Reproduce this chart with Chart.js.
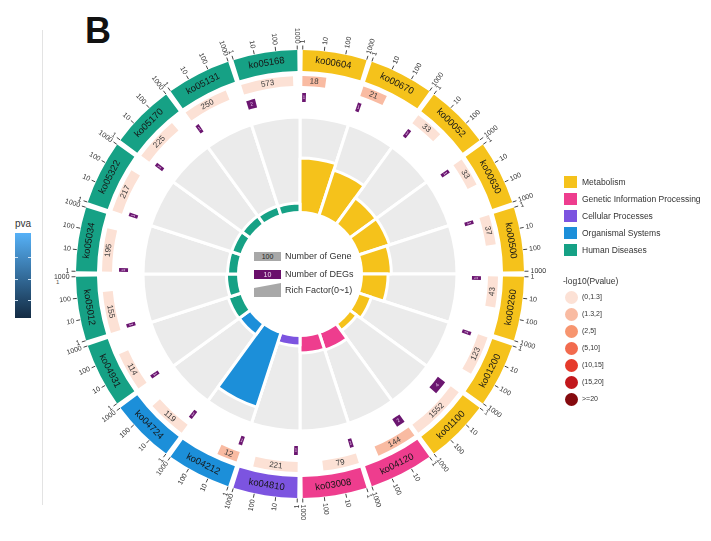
<!DOCTYPE html>
<html>
<head>
<meta charset="utf-8">
<script src="https://cdn.jsdelivr.net/npm/chart.js@4.4.1/dist/chart.umd.min.js"></script>
<style>
  html, body { margin: 0; padding: 0; background: #fff; }
  body { width: 711px; height: 541px; position: relative; overflow: hidden;
         font-family: "Liberation Sans", Arial, sans-serif; color: #333; }
  canvas { position: absolute; left: 0; top: 0; }
  .abs { position: absolute; white-space: nowrap; }
  .sq { position: absolute; width: 13px; height: 12px; }
  .dot { position: absolute; width: 13px; height: 13px; border-radius: 50%; }
</style>
</head>
<body>
<div class="abs" style="left:85px;top:10px;font-size:36px;font-weight:bold;color:#111;">B</div>
<div class="abs" style="left:42px;top:30px;width:1px;height:475px;background:#e3e3e3;"></div>

<!-- colour bar of the neighbouring panel -->
<div class="abs" style="left:15px;top:218px;font-size:10px;color:#333;">pva</div>
<div class="abs" style="left:15px;top:233px;width:16px;height:85px;background:linear-gradient(#56B1F7,#132B43);"></div>
<div class="abs" style="left:15px;top:257px;width:3px;height:1px;background:#cfe3f5;"></div>
<div class="abs" style="left:28px;top:257px;width:3px;height:1px;background:#cfe3f5;"></div>
<div class="abs" style="left:15px;top:279px;width:3px;height:1px;background:#cfe3f5;"></div>
<div class="abs" style="left:28px;top:279px;width:3px;height:1px;background:#cfe3f5;"></div>
<div class="abs" style="left:15px;top:300px;width:3px;height:1px;background:#cfe3f5;"></div>
<div class="abs" style="left:28px;top:300px;width:3px;height:1px;background:#cfe3f5;"></div>
<div class="abs" style="left:56px;top:279px;font-size:6px;color:#555;">1</div>

<canvas id="inner" width="711" height="541" style="width:711px;height:541px;"></canvas>
<canvas id="outer" width="711" height="541" style="width:711px;height:541px;"></canvas>

<!-- key in the centre of the circle -->
<div class="abs" style="left:254px;top:252px;width:27px;height:9px;background:#A8A8A8;font-size:7px;line-height:9px;text-align:center;color:#222;">100</div>
<div class="abs" style="left:285px;top:251px;font-size:9px;line-height:11px;color:#333;">Number of Gene</div>
<div class="abs" style="left:254px;top:270px;width:27px;height:9px;background:#6A0F6B;font-size:7px;line-height:9px;text-align:center;color:#f3dff3;">10</div>
<div class="abs" style="left:285px;top:269px;font-size:9px;line-height:11px;color:#333;">Number of DEGs</div>
<div class="abs" style="left:254px;top:283px;width:27px;height:14px;background:#A8A8A8;clip-path:polygon(0 35%,100% 0,100% 100%,0 100%);"></div>
<div class="abs" style="left:285px;top:285px;font-size:9px;line-height:11px;color:#333;">Rich Factor(0~1)</div>

<div id="legend"></div>

<script>
// KEGG pathways, clockwise from 12 o'clock
const pathways = ['ko00604','ko00670','ko00052','ko00630','ko00500','ko00260','ko01200','ko01100',
                  'ko04120','ko03008','ko04810','ko04212','ko04724',
                  'ko04931','ko05012','ko05034','ko05322','ko05170','ko05131','ko05168'];
const pathwayClass = ['Metabolism','Metabolism','Metabolism','Metabolism','Metabolism','Metabolism','Metabolism','Metabolism',
                      'Genetic Information Processing','Genetic Information Processing',
                      'Cellular Processes','Organismal Systems','Organismal Systems',
                      'Human Diseases','Human Diseases','Human Diseases','Human Diseases','Human Diseases','Human Diseases','Human Diseases'];
// background genes per pathway
const geneCounts = [18,21,33,33,37,43,123,1552,144,79,221,12,119,114,155,195,217,225,250,573];
// differentially expressed genes per pathway
const degCounts  = [1,1,1,1,1,1,1,4,2,1,1,1,1,1,1,1,1,1,1,2];
// -log10(P value) per pathway
const negLog10P  = [1.5,1.4,1.1,1.0,0.9,0.8,0.3,0.4,1.35,0.6,0.2,1.45,0.3,0.3,0.2,0.2,0.2,0.2,0.2,0.1];

const classNames  = ['Metabolism','Genetic Information Processing','Cellular Processes','Organismal Systems','Human Diseases'];
const classColors = ['#F5C21B','#EE3D8E','#7C54E0','#1C8FD9','#16A185'];
const pBinLabels  = ['(0,1.3]','(1.3,2]','(2,5]','(5,10]','(10,15]','(15,20]','>=20'];
const pBinUpper   = [1.3,2,5,10,15,20,Infinity];
const pBinColors  = ['#FCE1D5','#F9BBA2','#F7956F','#F26B4E','#E63A2B','#C2181C','#850A0E'];
const axisTicks   = [1,10,100,1000];

const richFactor = degCounts.map((d, i) => d / geneCounts[i]);
const classColor = c => classColors[classNames.indexOf(c)];
const pColor = v => pBinColors[pBinUpper.findIndex(u => v <= u)];

// ring geometry (degrees)
const SECTOR = 360 / pathways.length;
const GAP = 1.4;
const VIS = SECTOR - GAP;
const LOG_MAX = Math.log10(axisTicks[axisTicks.length - 1]);
const logSpan = n => VIS * Math.min(Math.log10(n), LOG_MAX) / LOG_MAX;
const CLEAR = 'rgba(0,0,0,0)';
const DEG_COLOR = '#6B1670';

// outer ring slices: each sector = [visible part, remainder]
const catSlices = [], catColors = [], geneSlices = [], geneColors = [], degSlices = [], degColors = [];
pathways.forEach((p, i) => {
  catSlices.push(VIS, GAP);           catColors.push(classColor(pathwayClass[i]), CLEAR);
  const g = logSpan(geneCounts[i]);
  geneSlices.push(g, SECTOR - g);     geneColors.push(pColor(negLog10P[i]), CLEAR);
  const d = logSpan(degCounts[i]) + 1.2;
  degSlices.push(d, SECTOR - d);      degColors.push(DEG_COLOR, CLEAR);
});

// text helpers
function textAlong(ctx, str, x, y, a, r, font, color) {
  ctx.save();
  ctx.translate(x + r * Math.cos(a), y + r * Math.sin(a));
  let rot = a + Math.PI / 2;
  if (Math.sin(a) > 0.0001) rot -= Math.PI;
  ctx.rotate(rot);
  ctx.font = font; ctx.fillStyle = color;
  ctx.textAlign = 'center'; ctx.textBaseline = 'middle';
  ctx.fillText(str, 0, 0);
  ctx.restore();
}
function textRadial(ctx, str, x, y, a, r, font, color) {
  const right = Math.cos(a) >= 0;
  ctx.save();
  ctx.translate(x + r * Math.cos(a), y + r * Math.sin(a));
  ctx.rotate(right ? a : a + Math.PI);
  ctx.font = font; ctx.fillStyle = color;
  ctx.textAlign = right ? 'left' : 'right'; ctx.textBaseline = 'middle';
  ctx.fillText(str, 0, 0);
  ctx.restore();
}

const ringText = {
  id: 'ringText',
  afterDatasetsDraw(chart) {
    const ctx = chart.ctx;
    const cat = chart.getDatasetMeta(0).data;
    const gene = chart.getDatasetMeta(2).data;
    const deg = chart.getDatasetMeta(4).data;
    const FONT = '"Liberation Sans", Arial, sans-serif';
    pathways.forEach((name, i) => {
      const b = cat[2 * i].getProps(['x','y','startAngle','endAngle','innerRadius','outerRadius']);
      textAlong(ctx, name, b.x, b.y, (b.startAngle + b.endAngle) / 2, (b.innerRadius + b.outerRadius) / 2,
                '9.5px ' + FONT, '#161616');
      // log axis 1..1000 along each sector
      axisTicks.forEach(v => {
        const a = b.startAngle + (b.endAngle - b.startAngle) * Math.log10(v) / LOG_MAX;
        ctx.save();
        ctx.strokeStyle = '#444'; ctx.lineWidth = 1;
        ctx.beginPath();
        ctx.moveTo(b.x + (b.outerRadius + 0.5) * Math.cos(a), b.y + (b.outerRadius + 0.5) * Math.sin(a));
        ctx.lineTo(b.x + (b.outerRadius + 4.5) * Math.cos(a), b.y + (b.outerRadius + 4.5) * Math.sin(a));
        ctx.stroke();
        ctx.restore();
        textRadial(ctx, String(v), b.x, b.y, a, b.outerRadius + 6.5, '7px ' + FONT, '#333');
      });
      const g = gene[2 * i].getProps(['x','y','startAngle','endAngle','innerRadius','outerRadius']);
      textAlong(ctx, String(geneCounts[i]), g.x, g.y, (g.startAngle + g.endAngle) / 2, (g.innerRadius + g.outerRadius) / 2,
                '8px ' + FONT, '#3a3a3a');
      const d = deg[2 * i].getProps(['x','y','startAngle','endAngle','innerRadius','outerRadius']);
      textAlong(ctx, String(degCounts[i]), d.x, d.y, (d.startAngle + d.endAngle) / 2, (d.innerRadius + d.outerRadius) / 2,
                '5px ' + FONT, '#e9c9ec');
    });
  }
};

const centreHole = {
  id: 'centreHole',
  afterDatasetsDraw(chart) {
    const s = chart.scales.r, ctx = chart.ctx;
    ctx.save();
    ctx.fillStyle = '#fff';
    ctx.beginPath();
    ctx.arc(s.xCenter, s.yCenter, 63, 0, Math.PI * 2);
    ctx.fill();
    ctx.restore();
  }
};

const RICH_MAX = 0.103;
const RICH_MIN = -0.0787;

// inner part: grey sectors and rich-factor bars
new Chart(document.getElementById('inner'), {
  type: 'polarArea',
  data: {
    labels: pathways,
    datasets: [
      { data: richFactor, backgroundColor: pathwayClass.map(classColor), borderColor: '#fff', borderWidth: 3 },
      { data: pathways.map(() => RICH_MAX), backgroundColor: '#EBEBEB', borderColor: '#fff', borderWidth: 3 }
    ]
  },
  options: {
    responsive: false, animation: false, events: [],
    layout: { padding: { left: 143, right: 254, top: 117, bottom: 110 } },
    scales: { r: { display: false, min: RICH_MIN, max: RICH_MAX } },
    plugins: { legend: { display: false }, tooltip: { enabled: false } }
  },
  plugins: [centreHole]
});

// outer rings: pathway class, gene count, DEG count
new Chart(document.getElementById('outer'), {
  type: 'doughnut',
  data: {
    datasets: [
      { data: catSlices,  backgroundColor: catColors,  weight: 21 },
      { data: [1],        backgroundColor: CLEAR,      weight: 5 },
      { data: geneSlices, backgroundColor: geneColors, weight: 10 },
      { data: [1],        backgroundColor: CLEAR,      weight: 7 },
      { data: degSlices,  backgroundColor: degColors,  weight: 9 }
    ]
  },
  options: {
    responsive: false, animation: false, events: [],
    radius: 224,
    cutout: (172 / 224 * 100) + '%',
    rotation: GAP / 2,
    layout: { padding: { left: 70, right: 181, top: 44, bottom: 37 } },
    elements: { arc: { borderWidth: 0 } },
    plugins: { legend: { display: false }, tooltip: { enabled: false } }
  },
  plugins: [ringText]
});

// legend on the right
const legend = document.getElementById('legend');
let html = '';
classNames.forEach((c, k) => {
  const y = 176 + k * 17;
  html += `<div class="sq" style="left:564px;top:${y}px;background:${classColors[k]}"></div>`;
  html += `<div class="abs" style="left:582px;top:${y}px;font-size:8.5px;line-height:12px;color:#333">${c}</div>`;
});
html += `<div class="abs" style="left:563px;top:275px;font-size:8.5px;line-height:12px;color:#333">-log10(Pvalue)</div>`;
pBinLabels.forEach((t, k) => {
  const y = 297 + k * 17;
  html += `<div class="dot" style="left:565px;top:${y - 6.5}px;background:${pBinColors[k]}"></div>`;
  html += `<div class="abs" style="left:582px;top:${y - 5}px;font-size:7px;line-height:10px;color:#333">${t}</div>`;
});
legend.innerHTML = html;
</script>
</body>
</html>
